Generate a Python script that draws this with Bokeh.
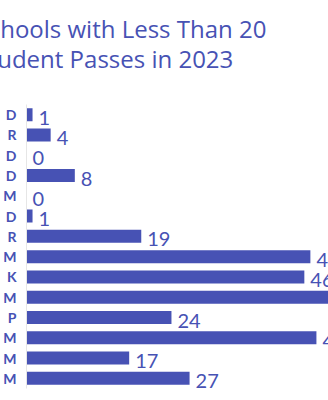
from bokeh.plotting import figure
from bokeh.models import ColumnDataSource, Title, FixedTicker, Range1d
from bokeh.core.properties import value
from bokeh.embed import file_html
from bokeh.resources import INLINE

# Row labels (only the visible last letter of each school name)
row_letters = ["D", "R", "D", "D", "M", "D", "R", "M", "K", "M", "P", "M", "M", "M"]
# Number of student passes in 2023
passes = [1, 4, 0, 8, 0, 1, 19, 47, 46, 55, 24, 48, 17, 27]

rows = list(range(1, len(passes) + 1))
labels = [str(v) for v in passes]

BLUE = "#4752b4"
FONT = "Lato"
TFONT = "Open Sans"

src = ColumnDataSource(dict(row=rows, passes=passes, label=labels))

p = figure(width=328, height=400, output_backend="svg", toolbar_location=None,
           x_range=Range1d(0, 50), y_range=Range1d(len(rows) + 0.5, 0.5),
           min_border_left=0, min_border_right=0, min_border_bottom=12,
           min_border_top=0)

p.title = Title(text="Schools with Less Than 20\nStudent Passes in 2023",
                align="left", vertical_align="top", offset=-51, text_font=TFONT,
                text_font_size="24px", text_font_style="normal", text_color=BLUE,
                text_line_height=0.9, standoff=23)
# blank gap between the title block and the bars
p.add_layout(Title(text=" ", text_font_size="12px", standoff=0), "above")

p.hbar(y="row", right="passes", left=0, height=0.64, source=src,
       fill_color=BLUE, line_color=None)

p.text(x="passes", y="row", text="label", source=src, x_offset=6, y_offset=3,
       text_baseline="middle", text_align="left", text_font=value(FONT),
       text_font_size="20px", text_color=BLUE)

p.xaxis.visible = False
p.xgrid.visible = False
p.ygrid.visible = False
p.outline_line_color = None

ya = p.yaxis[0]
ya.ticker = FixedTicker(ticks=rows)
ya.major_label_overrides = {r: l for r, l in zip(rows, row_letters)}
ya.major_tick_line_color = None
ya.minor_tick_line_color = None
ya.major_tick_out = 0
ya.major_tick_in = 0
ya.axis_line_color = "#e6e6e6"
ya.major_label_standoff = 10
ya.major_label_text_font = FONT
ya.major_label_text_font_size = "14px"
ya.major_label_text_font_style = "bold"
ya.major_label_text_color = BLUE

open("out.html", "w").write(file_html(p, INLINE))
